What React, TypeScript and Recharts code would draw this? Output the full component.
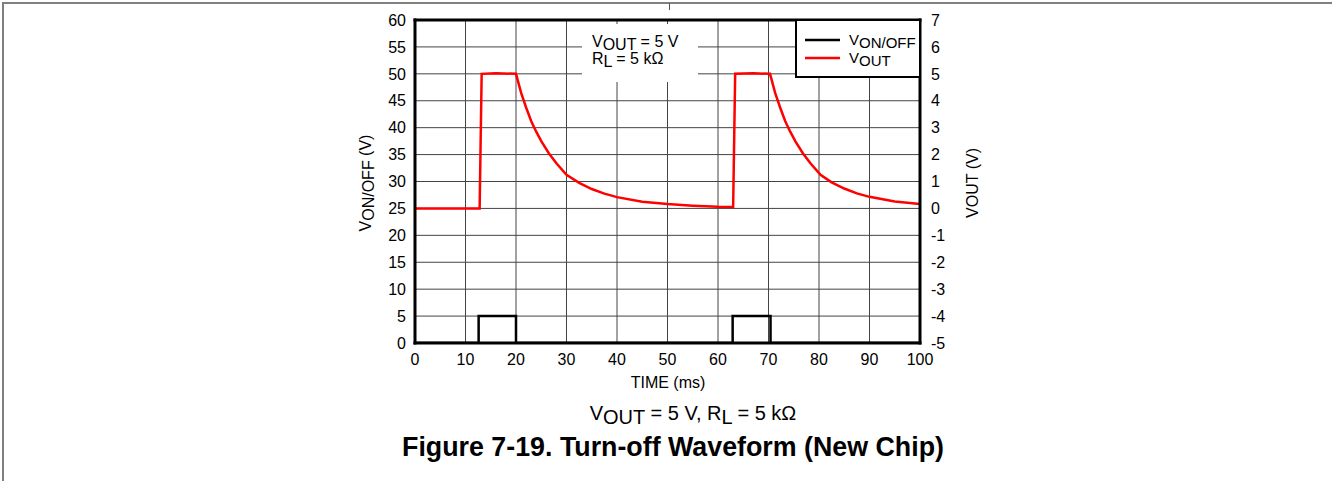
import {
  CartesianGrid,
  ComposedChart,
  Line,
  ReferenceLine,
  XAxis,
  YAxis,
} from "recharts";

const timeTicks = [0, 10, 20, 30, 40, 50, 60, 70, 80, 90, 100];
const onOffTicks = [0, 5, 10, 15, 20, 25, 30, 35, 40, 45, 50, 55, 60];
const voutTicks = [-5, -4, -3, -2, -1, 0, 1, 2, 3, 4, 5, 6, 7];

// V_ON/OFF control pulse (ms, V)
const onOffTime = [0, 12.6, 12.6, 20, 20, 62.9, 62.9, 70.4, 70.4, 100];
const onOffVolts = [0, 0, 5, 5, 0, 0, 5, 5, 0, 0];

// V_OUT (ms, V)
const voutTime = [
  0, 5, 10, 12.8, 13.2, 16, 20, 21, 22, 23, 24, 25, 26.5, 28, 30, 32.5, 35,
  37.5, 40, 45, 50, 55, 60, 63.0, 63.4, 67, 70.3, 71.3, 72.3, 73.3, 74.3, 75.3,
  76.8, 78.3, 80.3, 82.5, 85, 87.5, 90, 95, 100,
];
const voutVolts = [
  0, 0, 0, 0, 5, 5.02, 5, 4.3, 3.75, 3.25, 2.85, 2.5, 2.05, 1.68, 1.25, 0.95,
  0.72, 0.55, 0.42, 0.25, 0.16, 0.1, 0.06, 0.05, 5, 5.02, 5, 4.3, 3.75, 3.25,
  2.85, 2.5, 2.05, 1.68, 1.25, 0.97, 0.74, 0.56, 0.43, 0.26, 0.16,
];

const legendItems = [
  { main: "V", sub: "ON/OFF", color: "#000000" },
  { main: "V", sub: "OUT", color: "#ff0000" },
];

const FONT = "'Liberation Sans', Arial, Helvetica, sans-serif";
const W = 1332;
const H = 481;

const onOffData = onOffTime.map((t, i) => ({ t, v: onOffVolts[i] }));
const voutData = voutTime.map((t, i) => ({ t, v: voutVolts[i] }));

// legend box, sits in the top right corner of the plot
function LegendBox() {
  return (
    <svg
      width={126}
      height={59}
      style={{ position: "absolute", left: 795, top: 19 }}
    >
      <rect x={1} y={1} width={124} height={57} fill="#fff" stroke="#000" strokeWidth={2} />
      {legendItems.map((it, i) => {
        const cy = 21 + i * 18;
        return (
          <g key={i}>
            <line x1={10} x2={45} y1={cy} y2={cy} stroke={it.color} strokeWidth={2.5} />
            <text x={54} y={cy + 5} fontSize={15} fontFamily={FONT} fill="#000">
              {it.main}
              <tspan dy={2.5}>{it.sub}</tspan>
            </text>
          </g>
        );
      })}
    </svg>
  );
}

export default function App() {
  return (
    <div
      style={{
        position: "absolute",
        left: 0,
        top: 0,
        width: W,
        height: H,
        background: "#fff",
        fontFamily: FONT,
      }}
    >
      <ComposedChart
        width={W}
        height={H}
        margin={{ top: 20, right: 0, bottom: 108, left: 0 }}
        style={{ position: "absolute", left: 0, top: 0 }}
      >
        <CartesianGrid yAxisId="left" stroke="#444" strokeWidth={1} />
        <XAxis
          dataKey="t"
          type="number"
          domain={[0, 100]}
          ticks={timeTicks}
          allowDataOverflow
          height={30}
          tickSize={0}
          tickMargin={11}
          tickLine={false}
          axisLine={{ stroke: "#000", strokeWidth: 3, strokeLinecap: "square" }}
          tick={{ fontSize: 16, fill: "#000", fontFamily: FONT }}
        />
        <YAxis
          yAxisId="left"
          type="number"
          domain={[0, 60]}
          ticks={onOffTicks}
          allowDataOverflow
          width={415}
          tickSize={0}
          tickMargin={9}
          tickLine={false}
          axisLine={{ stroke: "#000", strokeWidth: 3, strokeLinecap: "square" }}
          tick={{ fontSize: 16, fill: "#000", fontFamily: FONT }}
        />
        <YAxis
          yAxisId="right"
          orientation="right"
          type="number"
          domain={[-5, 7]}
          ticks={voutTicks}
          allowDataOverflow
          width={412}
          tickSize={0}
          tickMargin={11}
          tickLine={false}
          axisLine={{ stroke: "#000", strokeWidth: 3, strokeLinecap: "square" }}
          tick={{ fontSize: 16, fill: "#000", fontFamily: FONT, textAnchor: "start" }}
        />
        <ReferenceLine
          yAxisId="left"
          y={60}
          stroke="#000"
          strokeWidth={3}
          strokeLinecap="square"
        />
        <Line
          data={onOffData}
          dataKey="v"
          name="VON/OFF"
          yAxisId="left"
          type="linear"
          stroke="#000"
          strokeWidth={2.5}
          dot={false}
          activeDot={false}
          isAnimationActive={false}
        />
        <Line
          data={voutData}
          dataKey="v"
          name="VOUT"
          yAxisId="right"
          type="linear"
          stroke="#ff0000"
          strokeWidth={2.5}
          dot={false}
          activeDot={false}
          isAnimationActive={false}
        />
      </ComposedChart>

      {/* annotation box */}
      <div
        style={{
          position: "absolute",
          left: 582,
          top: 24,
          width: 116,
          height: 58,
          background: "#fff",
        }}
      />

      <LegendBox />

      <svg
        width={W}
        height={H}
        style={{ position: "absolute", left: 0, top: 0, pointerEvents: "none" }}
      >
        {/* page frame */}
        <line x1={3} x2={3} y1={2} y2={H} stroke="#808080" strokeWidth={2} />
        <line x1={2} x2={W} y1={3} y2={3} stroke="#808080" strokeWidth={2} />
        <line x1={669.5} x2={669.5} y1={3} y2={10} stroke="#555" strokeWidth={1} />

        <g fontFamily={FONT} fill="#000">
          <text x={592} y={47} fontSize={16}>
            V<tspan dy={2.5}>OUT</tspan>
            <tspan dy={-2.5}> = 5 V</tspan>
          </text>
          <text x={592} y={64} fontSize={16}>
            R<tspan dy={2.5}>L</tspan>
            <tspan dy={-2.5}> = 5 kΩ</tspan>
          </text>

          <text
            x={0}
            y={0}
            fontSize={16}
            textAnchor="middle"
            transform="translate(371,183) rotate(-90)"
          >
            V<tspan dy={3}>ON/OFF</tspan>
            <tspan dy={-3}> (V)</tspan>
          </text>
          <text
            x={0}
            y={0}
            fontSize={16}
            textAnchor="middle"
            transform="translate(978,183) rotate(-90)"
          >
            VOUT (V)
          </text>

          <text x={668} y={388} fontSize={16} textAnchor="middle">
            TIME (ms)
          </text>

          <text x={693} y={420} fontSize={20} textAnchor="middle">
            V<tspan dy={4}>OUT</tspan>
            <tspan dy={-4}> = 5 V, R</tspan>
            <tspan dy={4}>L</tspan>
            <tspan dy={-4}> = 5 kΩ</tspan>
          </text>

          <text x={673} y={456} fontSize={26.8} fontWeight="bold" textAnchor="middle">
            Figure 7-19. Turn-off Waveform (New Chip)
          </text>
        </g>
      </svg>
    </div>
  );
}
